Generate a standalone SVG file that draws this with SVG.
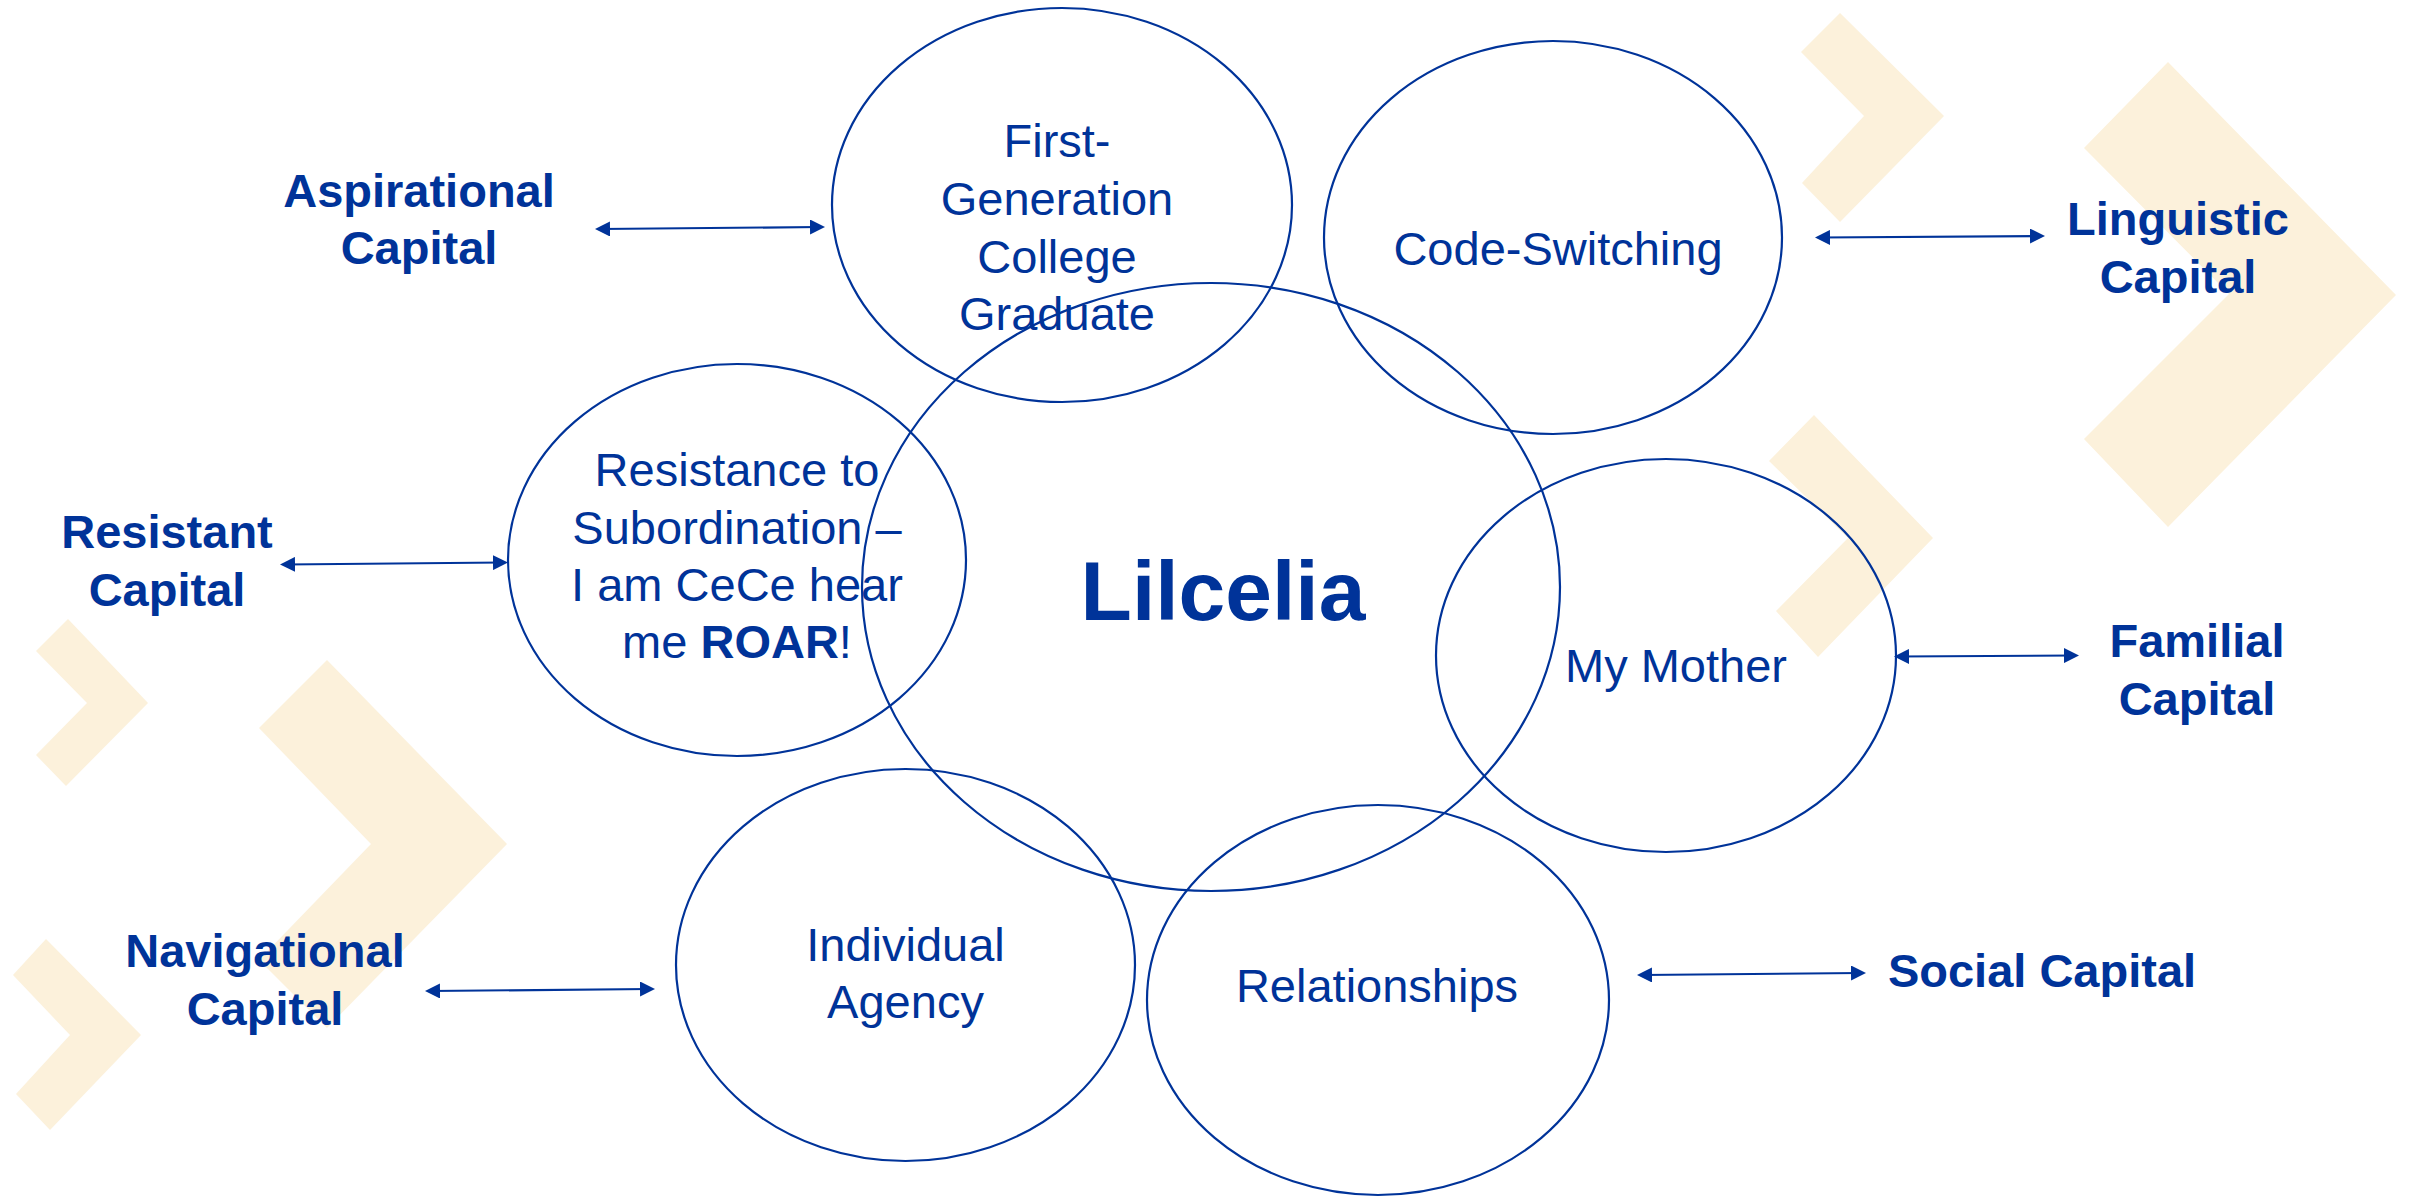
<svg xmlns="http://www.w3.org/2000/svg" width="2425" height="1197" viewBox="0 0 2425 1197">
<style>
  .bg { fill: #ffffff; }
  .chev { fill: #FCF1DB; }
  .node { fill: none; stroke: #003399; stroke-width: 2.2; }
  .t { font-family: "Liberation Sans", Arial, sans-serif; font-size: 47px; fill: #003399; text-anchor: middle; }
  .lbl { font-family: "Liberation Sans", Arial, sans-serif; font-size: 47px; font-weight: bold; fill: #003399; text-anchor: middle; }
  .title { font-family: "Liberation Sans", Arial, sans-serif; font-size: 84px; font-weight: bold; fill: #003399; text-anchor: middle; }
  .conn { stroke: #003399; stroke-width: 2.2; fill: none; marker-start: url(#ah); marker-end: url(#ah); }
</style>
<defs>
  <marker id="ah" viewBox="0 0 15 15" refX="10" refY="7.5" markerWidth="15" markerHeight="15" markerUnits="userSpaceOnUse" orient="auto-start-reverse">
    <path d="M0,0 L15,7.5 L0,15 z" fill="#003399"/>
  </marker>
</defs>
<rect class="bg" x="0" y="0" width="2425" height="1197"/>

<g id="background">
  <polygon class="chev" points="1840,13 1944,116 1840,222 1802,183 1864,116 1801,52"/>
  <polygon class="chev" points="2168,62 2396,295 2168,527 2084,439 2229,294 2084,148"/>
  <polygon class="chev" points="1814,415 1933,538 1818,657 1776,611 1848,538 1769,461"/>
  <polygon class="chev" points="68,619 148,703 66,786 36,755 87,703 36,651"/>
  <polygon class="chev" points="327,660 507,844 327,1028 259,960 371,844 259,728"/>
  <polygon class="chev" points="46,939 141,1035 50,1130 16,1094 70,1035 13,975"/>
</g>

<g id="node-center">
  <ellipse class="node" cx="1211" cy="587" rx="349" ry="304"/>
  <text class="title" x="1223" y="620">Lilcelia</text>
</g>

<g id="node-firstgen">
  <ellipse class="node" cx="1062" cy="205" rx="230" ry="197"/>
  <text class="t" x="1057" y="157">First-</text>
  <text class="t" x="1057" y="215">Generation</text>
  <text class="t" x="1057" y="273">College</text>
  <text class="t" x="1057" y="330">Graduate</text>
</g>

<g id="node-codeswitching">
  <ellipse class="node" cx="1553" cy="237.5" rx="229" ry="196.5"/>
  <text class="t" x="1558" y="265">Code-Switching</text>
</g>

<g id="node-resistance">
  <ellipse class="node" cx="737" cy="560" rx="229" ry="196"/>
  <text class="t" x="737" y="486">Resistance to</text>
  <text class="t" x="737" y="544">Subordination –</text>
  <text class="t" x="737" y="601">I am CeCe hear</text>
  <text class="t" x="737" y="658">me <tspan font-weight="bold">ROAR</tspan>!</text>
</g>

<g id="node-mother">
  <ellipse class="node" cx="1666" cy="655.5" rx="230" ry="196.5"/>
  <text class="t" x="1676" y="682">My Mother</text>
</g>

<g id="node-agency">
  <ellipse class="node" cx="905.5" cy="965" rx="229.5" ry="196"/>
  <text class="t" x="905.5" y="961">Individual</text>
  <text class="t" x="905.5" y="1018">Agency</text>
</g>

<g id="node-relationships">
  <ellipse class="node" cx="1378" cy="1000" rx="231" ry="195"/>
  <text class="t" x="1377" y="1002">Relationships</text>
</g>

<g id="label-aspirational">
  <text class="lbl" x="419" y="207">Aspirational</text>
  <text class="lbl" x="419" y="264">Capital</text>
</g>
<g id="label-resistant">
  <text class="lbl" x="167" y="548">Resistant</text>
  <text class="lbl" x="167" y="606">Capital</text>
</g>
<g id="label-navigational">
  <text class="lbl" x="265" y="967">Navigational</text>
  <text class="lbl" x="265" y="1025">Capital</text>
</g>
<g id="label-linguistic">
  <text class="lbl" x="2178" y="235">Linguistic</text>
  <text class="lbl" x="2178" y="293">Capital</text>
</g>
<g id="label-familial">
  <text class="lbl" x="2197" y="657">Familial</text>
  <text class="lbl" x="2197" y="715">Capital</text>
</g>
<g id="label-social">
  <text class="lbl" x="2042" y="987">Social Capital</text>
</g>

<g id="connectors">
  <line class="conn" x1="600" y1="229" x2="820" y2="227"/>
  <line class="conn" x1="285" y1="564.5" x2="503" y2="562.5"/>
  <line class="conn" x1="430" y1="991" x2="650" y2="989"/>
  <line class="conn" x1="1820" y1="237.5" x2="2040" y2="236"/>
  <line class="conn" x1="1899" y1="656.5" x2="2074" y2="655.5"/>
  <line class="conn" x1="1642" y1="975" x2="1861" y2="973"/>
</g>
</svg>
